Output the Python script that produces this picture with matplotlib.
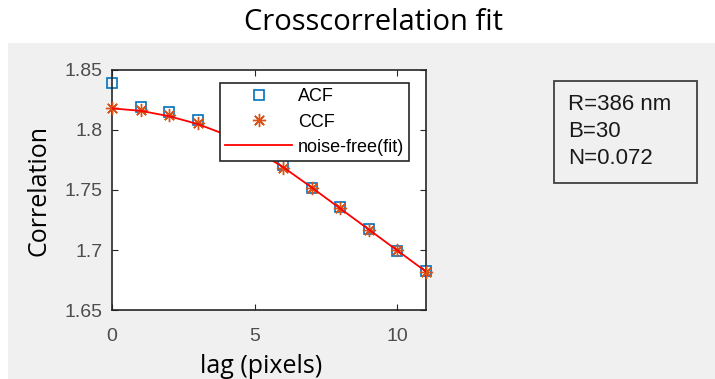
import matplotlib.pyplot as plt
from matplotlib.patches import Rectangle

# -----------------------------
# Data
# -----------------------------
lag = [0, 1, 2, 3, 4, 5, 6, 7, 8, 9, 10, 11]
acf = [1.839, 1.8195, 1.815, 1.808, 1.797, 1.784, 1.771, 1.752, 1.736, 1.7175, 1.6995, 1.6825]
ccf = [1.8185, 1.8167, 1.8125, 1.8056, 1.796, 1.783, 1.7687, 1.752, 1.735, 1.717, 1.700, 1.682]
fit = [1.818, 1.816, 1.8115, 1.805, 1.796, 1.7835, 1.769, 1.752, 1.7345, 1.717, 1.6995, 1.682]
fit_params = ["R=386 nm", "B=30", "N=0.072"]

W, H = 715, 379
label_font = "Open Sans"
tick_font = "Liberation Sans"

fig = plt.figure(figsize=(W / 100, H / 100), dpi=100, facecolor="white")

# grey figure panel below the title
fig.patches.append(Rectangle((8 / W, 0), 1 - 8 / W, (H - 43) / H,
                             transform=fig.transFigure, facecolor="#f0f0f0",
                             edgecolor="none", zorder=-5))

fig.text(374 / W, 1 - 22 / H, "Crosscorrelation fit", ha="center", va="center",
         fontsize=21, family=label_font, color="black")

# -----------------------------
# Main axes
# -----------------------------
ax = fig.add_axes([112 / W, (H - 310) / H, 314 / W, 240 / H])
ax.set_facecolor("white")
ax.plot(lag, acf, linestyle="none", marker="s", markersize=6.5, markerfacecolor="none",
        markeredgecolor="#0072BD", markeredgewidth=1.2, label="ACF", zorder=2,
        clip_on=False)
ax.plot(lag, ccf, linestyle="none", marker=(8, 2, 0), markersize=9.5,
        markeredgecolor="#D95319", markeredgewidth=1.0, label="CCF", zorder=3,
        clip_on=False)
ax.plot(lag, fit, color="#ff0000", linewidth=1.3, label="noise-free(fit)", zorder=4)

ax.set_xlim(0, 11)
ax.set_ylim(1.65, 1.85)
ax.set_xticks([0, 5, 10])
ax.set_yticks([1.65, 1.7, 1.75, 1.8, 1.85])
ax.set_yticklabels(["1.65", "1.7", "1.75", "1.8", "1.85"])
ax.tick_params(direction="in", top=True, right=True, length=4, width=0.8,
               colors="#262626", labelsize=14, labelcolor="#4d4d4d")
ax.tick_params(axis="x", pad=13)
ax.tick_params(axis="y", pad=7)
for lab in ax.get_xticklabels() + ax.get_yticklabels():
    lab.set_family(tick_font)
for sp in ax.spines.values():
    sp.set_color("#262626")
    sp.set_linewidth(1.2)

ax.set_xlabel("lag (pixels)", fontsize=18, family=label_font)
ax.xaxis.set_label_coords((261 - 112) / 314, -0.185)
ax.set_ylabel("Correlation", fontsize=18, family=label_font, labelpad=9)

leg = ax.legend(loc="upper left", bbox_to_anchor=(220 / W, 1 - 83 / H),
                bbox_transform=fig.transFigure, frameon=True, fancybox=False,
                borderaxespad=0, prop={"family": tick_font, "size": 13},
                handlelength=3.7, labelspacing=0.45, borderpad=0.3,
                handletextpad=0.3)
leg.get_frame().set_edgecolor("#262626")
leg.get_frame().set_linewidth(1.2)
leg.get_frame().set_facecolor("white")
leg.get_frame().set_alpha(1)
leg.set_zorder(10)

# -----------------------------
# Fit parameter box
# -----------------------------
fig.patches.append(Rectangle((554 / W, 1 - 183 / H), 143 / W, 102 / H,
                             transform=fig.transFigure, facecolor="none",
                             edgecolor="#404040", linewidth=1.3, zorder=5))
for i, s in enumerate(fit_params):
    fig.text(568 / W, 1 - (105 + 26.7 * i) / H, s, ha="left", va="center",
             fontsize=16, family=tick_font, color="#1a1a1a")

fig.savefig("out.png", dpi=100)
